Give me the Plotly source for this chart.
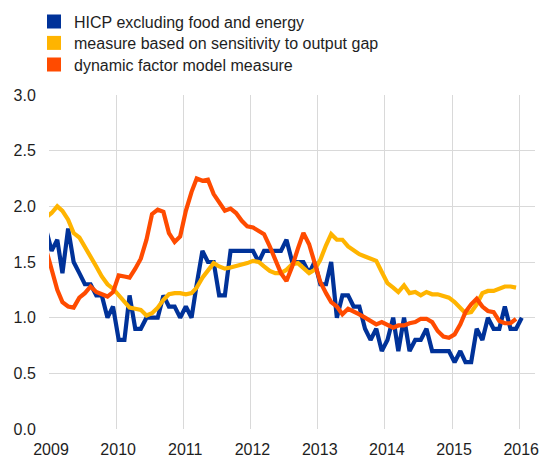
import pandas as pd
import plotly.graph_objects as go

# monthly observations, first point = Dec 2008 (clipped at the 2009 axis start)
start_month = "2008-12-01"

hicp_ex_food_energy = [
    1.8,
    1.6, 1.7, 1.4, 1.8, 1.5, 1.4, 1.3, 1.3, 1.2, 1.2, 1.0, 1.1,   # 2009
    0.8, 0.8, 1.2, 0.9, 0.9, 1.0, 1.0, 1.0, 1.2, 1.1, 1.1, 1.0,   # 2010
    1.1, 1.0, 1.3, 1.6, 1.5, 1.5, 1.2, 1.2, 1.6, 1.6, 1.6, 1.6,   # 2011
    1.6, 1.5, 1.6, 1.6, 1.6, 1.6, 1.7, 1.5, 1.5, 1.5, 1.4, 1.5,   # 2012
    1.3, 1.3, 1.5, 1.0, 1.2, 1.2, 1.1, 1.1, 0.9, 0.8, 0.9, 0.7,   # 2013
    0.8, 1.0, 0.7, 1.0, 0.7, 0.8, 0.8, 0.9, 0.7, 0.7, 0.7, 0.7,   # 2014
    0.6, 0.7, 0.6, 0.6, 0.9, 0.8, 1.0, 0.9, 0.9, 1.1, 0.9, 0.9,   # 2015
    1.0,                                                          # 2016
]

output_gap_measure = [
    1.90,
    1.94, 2.00, 1.96, 1.88, 1.76, 1.72, 1.64, 1.55, 1.46, 1.37, 1.30, 1.26,  # 2009
    1.20, 1.14, 1.09, 1.08, 1.07, 1.02, 1.04, 1.09, 1.16, 1.21, 1.22, 1.22,  # 2010
    1.21, 1.22, 1.27, 1.36, 1.43, 1.49, 1.46, 1.44, 1.45, 1.46, 1.48, 1.49,  # 2011
    1.51, 1.50, 1.46, 1.42, 1.40, 1.40, 1.43, 1.48, 1.49, 1.45, 1.40, 1.43,  # 2012
    1.52, 1.65, 1.75, 1.70, 1.70, 1.64, 1.60, 1.57, 1.55, 1.53, 1.51, 1.41,  # 2013
    1.31, 1.27, 1.23, 1.29, 1.22, 1.23, 1.20, 1.23, 1.21, 1.21, 1.19, 1.18,  # 2014
    1.14, 1.09, 1.04, 1.05, 1.12, 1.22, 1.24, 1.24, 1.26, 1.28, 1.28, 1.27,  # 2015
]

dynamic_factor_measure = [
    1.62,
    1.42, 1.25, 1.14, 1.10, 1.09, 1.18, 1.22, 1.28, 1.23, 1.21, 1.19, 1.23,  # 2009
    1.38, 1.37, 1.36, 1.44, 1.53, 1.70, 1.93, 1.97, 1.95, 1.76, 1.68, 1.73,  # 2010
    1.96, 2.13, 2.25, 2.23, 2.24, 2.11, 2.04, 1.96, 1.98, 1.94, 1.87, 1.82,  # 2011
    1.81, 1.78, 1.75, 1.64, 1.52, 1.40, 1.33, 1.46, 1.62, 1.76, 1.66, 1.48,  # 2012
    1.32, 1.22, 1.14, 1.10, 1.03, 1.08, 1.06, 1.03, 1.00, 0.97, 0.94, 0.96,  # 2013
    0.93, 0.91, 0.93, 0.93, 0.95, 0.96, 0.99, 0.99, 0.96, 0.88, 0.83, 0.82,  # 2014
    0.85, 0.94, 1.05, 1.12, 1.17, 1.10, 1.06, 1.05, 0.97, 0.95, 0.95, 0.99,  # 2015
]

series_names = [
    "HICP excluding food and energy",
    "measure based on sensitivity to output gap",
    "dynamic factor model measure",
]
series_colors = ["#003299", "#FFB400", "#FF4B00"]
series_values = [hicp_ex_food_energy, output_gap_measure, dynamic_factor_measure]

year_ticks = ["2009", "2010", "2011", "2012", "2013", "2014", "2015", "2016"]
y_ticks = [0.0, 0.5, 1.0, 1.5, 2.0, 2.5, 3.0]

FONT = "Arial, Liberation Sans, sans-serif"
TEXT = "#1e1e1e"
GRID = "#d9d9d9"
W, H = 541, 457

fig = go.Figure()

for name, color, vals in zip(series_names, series_colors, series_values):
    dates = pd.date_range(start_month, periods=len(vals), freq="MS") + pd.Timedelta(days=14)
    fig.add_trace(go.Scatter(
        x=dates, y=vals, mode="lines", name=name,
        line=dict(color=color, width=4.2),
        showlegend=False, hoverinfo="skip",
    ))

# square legend entries, one legend box per row for exact row spacing
legend_ids = ["legend", "legend2", "legend3"]
legend_tops = [4.5, 26.0, 47.5]
for name, color, lid in zip(series_names, series_colors, legend_ids):
    fig.add_trace(go.Scatter(
        x=[None], y=[None], mode="markers", name=name,
        marker=dict(symbol="square", size=14, color=color),
        showlegend=True, legend=lid,
    ))

legend_common = dict(
    xref="container", yref="container", xanchor="left", yanchor="top",
    font=dict(family=FONT, size=16, color=TEXT),
    bgcolor="rgba(0,0,0,0)", borderwidth=0, itemwidth=30,
)
legend_layout = {
    lid: dict(x=34 / W, y=1 - top / H, **legend_common)
    for lid, top in zip(legend_ids, legend_tops)
}

fig.update_layout(
    width=W, height=H,
    margin=dict(l=49, r=6, t=95, b=27.5, pad=0, autoexpand=False),
    paper_bgcolor="white", plot_bgcolor="white",
    font=dict(family=FONT, size=16, color=TEXT),
    xaxis=dict(
        type="date",
        range=["2009-01-01", "2016-03-27"],
        tickvals=[f"{y}-01-01" for y in year_ticks],
        ticktext=year_ticks,
        tickangle=0,
        showgrid=True, gridcolor=GRID, gridwidth=1,
        zeroline=False, showline=False,
        ticks="outside", ticklen=6, tickcolor="rgba(0,0,0,0)",
        ticklabelshift=2,
        tickfont=dict(family=FONT, size=16, color=TEXT),
    ),
    yaxis=dict(
        range=[0, 3],
        tickvals=y_ticks,
        ticktext=[f"{v:.1f}" for v in y_ticks],
        showgrid=True, gridcolor=GRID, gridwidth=1,
        zeroline=False, showline=False,
        ticks="outside", ticklen=9, tickcolor="rgba(0,0,0,0)",
        tickfont=dict(family=FONT, size=16, color=TEXT),
    ),
    **legend_layout,
)

fig.write_html(
    "out.html",
    config={"displayModeBar": False},
    post_script="document.body.style.margin='0';document.body.style.padding='0';",
)
